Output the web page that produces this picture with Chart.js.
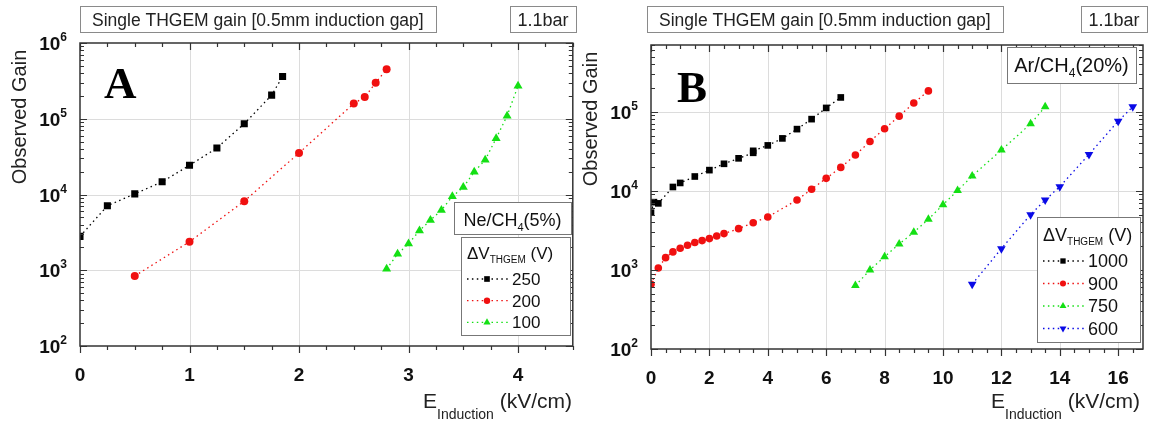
<!DOCTYPE html>
<html>
<head>
<meta charset="utf-8">
<script src="https://cdn.jsdelivr.net/npm/chart.js@4.4.1/dist/chart.umd.min.js"></script>
<style>
    body { margin: 0; background: #fff; }
    #wrap { position: relative; width: 1151px; height: 425px; }
    #wrap canvas { position: absolute; top: 0; }
</style>
</head>
<body>
<div id="wrap">
    <canvas id="gainA" width="578" height="425" style="left:0"></canvas>
    <canvas id="gainB" width="573" height="425" style="left:578px"></canvas>
</div>
<script>
// Panel A - Ne/CH4(5%), induction field (kV/cm) vs gain
var fieldA250 = [0, 0.25, 0.5, 0.75, 1.0, 1.25, 1.5, 1.75, 1.85];
var gainA250 = [2800, 7100, 10200, 14700, 24300, 41100, 85900, 205000, 361000];
var fieldA200 = [0.5, 1.0, 1.5, 2.0, 2.5, 2.6, 2.7, 2.8];
var gainA200 = [840, 2380, 8170, 35300, 159000, 193000, 298000, 451000];
var fieldA100 = [2.8, 2.9, 3.0, 3.1, 3.2, 3.3, 3.4, 3.5, 3.6, 3.7, 3.8, 3.9, 4.0];
var gainA100 = [1040, 1640, 2240, 3330, 4590, 6220, 9420, 12500, 19900, 28600, 55100, 109000, 272000];

// Panel B - Ar/CH4(20%)
var fieldB1000 = [0, 0.1, 0.25, 0.75, 1.0, 1.5, 2.0, 2.5, 3.0, 3.5, 3.5, 4.0, 4.5, 5.0, 5.5, 6.0, 6.5];
var gainB1000 = [5300, 7200, 6950, 11200, 12600, 15200, 18300, 22000, 25800, 30300, 32100, 37600, 46100, 60400, 80800, 112000, 152000];
var fieldB900 = [0, 0.25, 0.5, 0.75, 1.0, 1.25, 1.5, 1.75, 2.0, 2.25, 2.5, 3.0, 3.5, 4.0, 5.0, 5.5, 6.0, 6.5, 7.0, 7.5, 8.0, 8.5, 9.0, 9.5];
var gainB900 = [660, 1060, 1430, 1690, 1880, 2050, 2220, 2350, 2490, 2690, 2880, 3330, 3960, 4670, 7660, 10500, 14400, 19800, 28400, 42200, 61000, 88200, 129000, 184000];
var fieldB750 = [7.0, 7.5, 8.0, 8.5, 9.0, 9.5, 10.0, 10.5, 11.0, 12.0, 13.0, 13.5];
var gainB750 = [634, 1000, 1470, 2130, 2990, 4370, 6680, 10100, 15400, 32800, 70500, 116000];
var fieldB600 = [11, 12, 13, 13.5, 14, 15, 16, 16.5];
var gainB600 = [660, 1860, 5000, 7660, 11300, 28900, 76200, 116000];

var voltsA = ['250', '200', '100'];
var voltsB = ['1000', '900', '750', '600'];

var xLabelsA = [0, 1, 2, 3, 4];
var xLabelsB = [0, 2, 4, 6, 8, 10, 12, 14, 16];
var yDecadesA = [2, 3, 4, 5, 6];
var yDecadesB = [2, 3, 4, 5];

var SANS = "'Liberation Sans', Arial, sans-serif";
var SERIF = "'Liberation Serif', 'Times New Roman', serif";
var DOTS = [1.5, 3.4];

function pts(xs, ys) {
    return xs.map(function (x, i) { return { x: x, y: ys[i] }; });
}

function series(label, xs, ys, color, style, radius, rotation) {
    return {
        label: label,
        data: pts(xs, ys),
        showLine: true,
        borderColor: color,
        borderWidth: 1.3,
        borderDash: DOTS,
        pointStyle: style,
        pointRotation: rotation || 0,
        pointRadius: radius,
        pointBorderWidth: 0,
        pointBackgroundColor: color,
        backgroundColor: color
    };
}

// text made of pieces with their own font and vertical shift (sub/superscripts)
function richWidth(ctx, parts) {
    var w = 0;
    parts.forEach(function (p) { ctx.font = p.font; w += ctx.measureText(p.text).width; });
    return w;
}
function drawRich(ctx, parts, x, y, align) {
    var w = richWidth(ctx, parts);
    if (align === 'right') x -= w;
    else if (align === 'center') x -= w / 2;
    ctx.textAlign = 'left';
    ctx.textBaseline = 'alphabetic';
    parts.forEach(function (p) {
        ctx.font = p.font;
        ctx.fillText(p.text, x, y + (p.dy || 0));
        x += ctx.measureText(p.text).width;
    });
}

function box(ctx, x, y, w, h, color) {
    ctx.strokeStyle = color || '#8a8a8a';
    ctx.lineWidth = 1;
    ctx.strokeRect(Math.round(x) + 0.5, Math.round(y) + 0.5, w, h);
}

var framePlugin = {
    id: 'originFrame',
    beforeDatasetsDraw: function (chart, args, o) {
        var ctx = chart.ctx, a = chart.chartArea;
        var xs = chart.scales.x, ys = chart.scales.y;
        ctx.save();
        ctx.strokeStyle = '#dcdcdc';
        ctx.lineWidth = 1;
        o.xGrid.forEach(function (v) {
            var px = Math.round(xs.getPixelForValue(v)) + 0.5;
            ctx.beginPath(); ctx.moveTo(px, a.top); ctx.lineTo(px, a.bottom); ctx.stroke();
        });
        o.yDecades.forEach(function (d) {
            var py = Math.round(ys.getPixelForValue(Math.pow(10, d))) + 0.5;
            if (py <= a.top + 1 || py >= a.bottom - 1) return;
            ctx.beginPath(); ctx.moveTo(a.left, py); ctx.lineTo(a.right, py); ctx.stroke();
        });
        ctx.restore();
    },
    afterDatasetsDraw: function (chart, args, o) {
        var ctx = chart.ctx, a = chart.chartArea;
        var xs = chart.scales.x, ys = chart.scales.y;
        ctx.save();

        // frame
        ctx.strokeStyle = '#333';
        ctx.lineWidth = 1.5;
        ctx.strokeRect(a.left, a.top, a.right - a.left, a.bottom - a.top);

        // x ticks: outward at bottom, inward at top
        ctx.lineWidth = 1.2;
        ctx.beginPath();
        for (var v = 0; v <= xs.max + 1e-9; v += o.xMinor) {
            var px = Math.round(xs.getPixelForValue(v)) + 0.5;
            var major = Math.abs(v / o.xMajor - Math.round(v / o.xMajor)) < 1e-6;
            var len = major ? 7 : 4;
            ctx.moveTo(px, a.bottom); ctx.lineTo(px, a.bottom + len);
            ctx.moveTo(px, a.top); ctx.lineTo(px, a.top + len);
        }
        // y ticks (log): inward on both sides
        for (var d = 2; d <= 6; d++) {
            for (var m = 1; m <= 9; m++) {
                var val = m * Math.pow(10, d);
                if (val < ys.min * 0.999 || val > ys.max * 1.001) continue;
                var py = Math.round(ys.getPixelForValue(val)) + 0.5;
                var l = m === 1 ? 7 : 4;
                ctx.moveTo(a.left, py); ctx.lineTo(a.left + l, py);
                ctx.moveTo(a.right, py); ctx.lineTo(a.right - l, py);
            }
        }
        ctx.stroke();

        // tick labels
        ctx.fillStyle = '#111';
        o.xLabels.forEach(function (v) {
            drawRich(ctx, [{ text: String(v), font: 'bold 19px ' + SANS }],
                xs.getPixelForValue(v), a.bottom + 35, 'center');
        });
        o.yDecades.forEach(function (d) {
            var py = ys.getPixelForValue(Math.pow(10, d));
            drawRich(ctx, [
                { text: '10', font: 'bold 19px ' + SANS },
                { text: String(d), font: 'bold 12px ' + SANS, dy: -9 }
            ], a.left - 13, py + 7, 'right');
        });

        // axis titles
        ctx.fillStyle = '#222';
        drawRich(ctx, [
            { text: 'E', font: '21px ' + SANS },
            { text: 'Induction', font: '14px ' + SANS, dy: 11 },
            { text: ' (kV/cm)', font: '21px ' + SANS }
        ], o.xTitleRight, 408, 'right');
        ctx.save();
        ctx.translate(a.left - 54, a.top + 74);
        ctx.rotate(-Math.PI / 2);
        ctx.font = '20px ' + SANS;
        ctx.textAlign = 'center';
        ctx.fillText('Observed Gain', 0, 0);
        ctx.restore();

        // header boxes
        box(ctx, o.titleX, 6, 356, 26);
        ctx.fillStyle = '#222';
        drawRich(ctx, [{ text: 'Single THGEM gain [0.5mm induction gap]', font: '17.5px ' + SANS }],
            o.titleX + 12, 26, 'left');
        box(ctx, o.barX, 6, 66, 26);
        drawRich(ctx, [{ text: '1.1bar', font: '18px ' + SANS }], o.barX + 33, 26, 'center');

        // panel letter
        ctx.fillStyle = '#000';
        ctx.font = 'bold 45px ' + SERIF;
        ctx.textAlign = 'left';
        ctx.fillText(o.letter, o.letterX, o.letterY);

        // gas mixture box
        var g = o.gas;
        ctx.fillStyle = '#fff';
        ctx.fillRect(g.x, g.y, g.w, g.h);
        box(ctx, g.x, g.y, g.w, g.h, '#777');
        ctx.fillStyle = '#111';
        drawRich(ctx, [
            { text: g.name, font: g.size + 'px ' + SANS },
            { text: '4', font: Math.round(g.size * 0.6) + 'px ' + SANS, dy: 5 },
            { text: g.frac, font: g.size + 'px ' + SANS }
        ], g.x + g.w / 2, g.base, 'center');

        // legend built from the datasets
        var L = o.legend;
        ctx.fillStyle = '#fff';
        ctx.fillRect(L.x, L.y, L.w, L.h);
        box(ctx, L.x, L.y, L.w, L.h, '#777');
        ctx.fillStyle = '#111';
        drawRich(ctx, [
            { text: '\u0394V', font: L.size + 'px ' + SANS },
            { text: 'THGEM', font: '10px ' + SANS, dy: 4 },
            { text: ' (V)', font: L.size + 'px ' + SANS }
        ], L.x + 6, L.head, 'left');
        chart.data.datasets.forEach(function (ds, i) {
            var base = L.row0 + i * L.step;
            var cy = base - 6;
            ctx.save();
            ctx.strokeStyle = ds.borderColor;
            ctx.lineWidth = 1.3;
            ctx.setLineDash(DOTS);
            ctx.beginPath();
            ctx.moveTo(L.x + 6, cy); ctx.lineTo(L.x + 47, cy);
            ctx.stroke();
            ctx.restore();
            ctx.fillStyle = ds.pointBackgroundColor;
            ctx.strokeStyle = ds.pointBackgroundColor;
            Chart.helpers.drawPoint(ctx, {
                pointStyle: ds.pointStyle, rotation: ds.pointRotation,
                radius: ds.pointRadius * 0.8, borderWidth: 0
            }, L.x + 26, cy);
            ctx.fillStyle = '#111';
            drawRich(ctx, [{ text: ds.label, font: L.size + 'px ' + SANS }], L.x + 51, base, 'left');
        });

        ctx.restore();
    }
};

function makePanel(id, datasets, xMax, yMax, pad, o) {
    return new Chart(document.getElementById(id), {
        type: 'scatter',
        data: { datasets: datasets },
        plugins: [framePlugin],
        options: {
            responsive: false,
            animation: false,
            events: [],
            layout: { padding: pad },
            scales: {
                x: { type: 'linear', min: 0, max: xMax, display: false },
                y: { type: 'logarithmic', min: 100, max: yMax, display: false }
            },
            plugins: {
                legend: { display: false },
                tooltip: { enabled: false },
                originFrame: o
            }
        }
    });
}

makePanel('gainA', [
    series(voltsA[0], fieldA250, gainA250, '#000000', 'rect', 5.0),
    series(voltsA[1], fieldA200, gainA200, '#f01010', 'circle', 4.0),
    series(voltsA[2], fieldA100, gainA100, '#14e014', 'triangle', 5.2)
], 4.5, 1e6, { left: 80, right: 3, top: 43, bottom: 79 }, {
    xGrid: [1, 2, 3, 4], xMinor: 0.25, xMajor: 1, xLabels: xLabelsA, yDecades: yDecadesA,
    xTitleRight: 572, titleX: 80, barX: 510,
    letter: 'A', letterX: 104, letterY: 98,
    gas: { x: 454, y: 202, w: 117, h: 32, base: 226, size: 18, name: 'Ne/CH', frac: '(5%)' },
    legend: { x: 461, y: 237, w: 109, h: 98, head: 259, row0: 285, step: 21.7, size: 17 }
});

makePanel('gainB', [
    series(voltsB[0], fieldB1000, gainB1000, '#000000', 'rect', 4.7),
    series(voltsB[1], fieldB900, gainB900, '#f01010', 'circle', 3.8),
    series(voltsB[2], fieldB750, gainB750, '#14e014', 'triangle', 5.0),
    series(voltsB[3], fieldB600, gainB600, '#0a0ae6', 'triangle', 5.0, 180)
], 16.85, 7e5, { left: 73, right: 8, top: 45, bottom: 76 }, {
    xGrid: [2, 4, 6, 8, 10, 12, 14, 16], xMinor: 0.5, xMajor: 2, xLabels: xLabelsB, yDecades: yDecadesB,
    xTitleRight: 562, titleX: 69, barX: 503,
    letter: 'B', letterX: 99, letterY: 102,
    gas: { x: 429, y: 47, w: 129, h: 36, base: 72, size: 20, name: 'Ar/CH', frac: '(20%)' },
    legend: { x: 459, y: 217, w: 103, h: 125, head: 241, row0: 267, step: 22.5, size: 18 }
});
</script>
</body>
</html>
